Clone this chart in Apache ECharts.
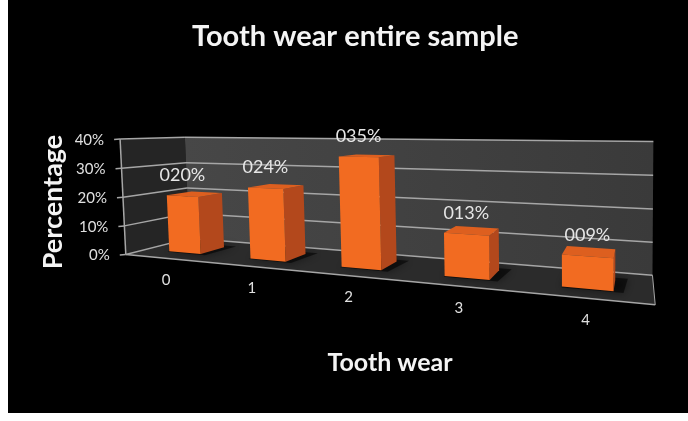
<!DOCTYPE html>
<html><head><meta charset="utf-8">
<script src="https://cdn.jsdelivr.net/npm/echarts@6/dist/echarts.min.js"></script>
<style>html,body{margin:0;padding:0;background:#fff}#c{width:688px;height:421px}</style>
</head><body><div id="c"></div>
<script>
// ---- data ----
const categories = ['0', '1', '2', '3', '4'];
const values = [20, 24, 35, 13, 9];
const valueLabels = ['020%', '024%', '035%', '013%', '009%'];
const yTicks = [0, 10, 20, 30, 40];
const yTickLabels = ['0%', '10%', '20%', '30%', '40%'];
const titleText = 'Tooth wear entire sample';
const xAxisName = 'Tooth wear';
const yAxisName = 'Percentage';

// ---- layout: calibration of the 3-D view (box corner u,v,z -> page px) ----
const VIEW = [
  [0, 1, 0, 118, 139], [0, 0, 0, 128, 253], [0, 1, 1, 187, 137], [0, 0, 1, 187, 240],
  [1, 1, 1, 653, 142], [1, 0, 1, 653, 273], [1, 0, 0, 655, 307]
];
const BAR_W = 0.4, BAR_Z0 = 0.3, BAR_Z1 = 0.7;
const FONT = 'Lato, "Open Sans", sans-serif';

function solveLinear(M, b) {
  const n = b.length, A = M.map((r, i) => r.concat([b[i]]));
  for (let c = 0; c < n; c++) {
    let p = c;
    for (let r = c + 1; r < n; r++) if (Math.abs(A[r][c]) > Math.abs(A[p][c])) p = r;
    [A[c], A[p]] = [A[p], A[c]];
    for (let r = 0; r < n; r++) {
      if (r === c) continue;
      const f = A[r][c] / A[c][c];
      for (let k = c; k <= n; k++) A[r][k] -= f * A[c][k];
    }
  }
  return A.map((r, i) => r[n] / r[i]);
}
function makeProjector(ref) {
  const A = [], B = [];
  ref.forEach(([X, Y, Z, x, y]) => {
    A.push([X, Y, Z, 1, 0, 0, 0, 0, -x * X, -x * Y, -x * Z]); B.push(x);
    A.push([0, 0, 0, 0, X, Y, Z, 1, -y * X, -y * Y, -y * Z]); B.push(y);
  });
  const n = 11, N = [...Array(n)].map(() => Array(n).fill(0)), r = Array(n).fill(0);
  for (let k = 0; k < A.length; k++) for (let i = 0; i < n; i++) {
    r[i] += A[k][i] * B[k];
    for (let j = 0; j < n; j++) N[i][j] += A[k][i] * A[k][j];
  }
  const p = solveLinear(N, r);
  return (u, v, z) => {
    const w = p[8] * u + p[9] * v + p[10] * z + 1;
    return [(p[0] * u + p[1] * v + p[2] * z + p[3]) / w, (p[4] * u + p[5] * v + p[6] * z + p[7]) / w];
  };
}
const P = makeProjector(VIEW);

function norm(params, api, cat, val) {
  const r = params.coordSys, c = api.coord([cat, val]);
  return [(c[0] - r.x) / r.width, (r.y + r.height - c[1]) / r.height];
}
const GRID_C = '#a6a6a6';

const chart = echarts.init(document.getElementById('c'), null, { renderer: 'canvas' });
chart.setOption({
  animation: false,
  backgroundColor: '#000',
  title: {
    text: titleText, left: 187, top: 17,
    textStyle: { color: '#f4f4f4', fontSize: 29, fontWeight: 'bold', fontFamily: FONT }
  },
  grid: { left: 130, right: 40, top: 140, bottom: 120 },
  xAxis: { type: 'category', data: categories, show: false },
  yAxis: { type: 'value', min: 0, max: 40, interval: 10, show: false },
  graphic: [
    { type: 'rect', z: 100, shape: { x: 0, y: 0, width: 8, height: 421 }, style: { fill: '#fff' } },
    { type: 'rect', z: 100, shape: { x: 0, y: 413, width: 688, height: 8 }, style: { fill: '#fff' } },
    { type: 'text', z: 100, x: 53, y: 202, rotation: Math.PI / 2,
      style: { text: yAxisName, fill: '#f4f4f4', font: 'bold 27px ' + FONT, align: 'center', verticalAlign: 'middle', textAlign: 'center', textVerticalAlign: 'middle' } },
    { type: 'text', z: 100, x: 390, y: 363,
      style: { text: xAxisName, fill: '#f4f4f4', font: 'bold 25px ' + FONT, align: 'center', verticalAlign: 'middle', textAlign: 'center', textVerticalAlign: 'middle' } }
  ],
  series: [
    { // walls and floor
      type: 'custom', z: 1, clip: false, silent: true,
      data: [[0, 40]],
      renderItem(params, api) {
        const vt = norm(params, api, 0, api.value(1))[1];
        const poly = (pts, fill) => ({ type: 'polygon', shape: { points: pts }, style: { fill } });
        const ln = (a, b, w) => ({ type: 'line', shape: { x1: a[0], y1: a[1], x2: b[0], y2: b[1] }, style: { stroke: GRID_C, lineWidth: w || 1.5 } });
        return { type: 'group', children: [
          poly([P(0, 0, 0), P(0, 0, 1), P(0, vt, 1), P(0, vt, 0)], '#252525'),
          poly([P(0, 0, 1), P(1, 0, 1), P(1, vt, 1), P(0, vt, 1)],
            new echarts.graphic.LinearGradient(0, 0, 1, 0, [{ offset: 0, color: '#474747' }, { offset: 1, color: '#3a3a3a' }])),
          poly([P(0, 0, 0), P(1, 0, 0), P(1, 0, 1), P(0, 0, 1)], '#2b2b2b'),
          ln(P(0, 0, 0), P(0, vt, 0)),
          ln(P(0, 0, 0), P(1, 0, 0)),
          ln(P(1, 0, 0), P(1, 0, 1), 1)
        ] };
      }
    },
    { // grid lines + y tick labels
      type: 'custom', z: 2, clip: false, silent: true,
      data: yTicks.map((t, i) => [i, t]),
      renderItem(params, api) {
        const idx = api.value(0), v = norm(params, api, 0, api.value(1))[1];
        const a = P(0, v, 0), b = P(0, v, 1), c = P(1, v, 1);
        const ln = (p, q) => ({ type: 'line', shape: { x1: p[0], y1: p[1], x2: q[0], y2: q[1] }, style: { stroke: GRID_C, lineWidth: 1.5 } });
        return { type: 'group', children: [
          ln([a[0] - 6, a[1] + 0.5], a), ln(a, b), ln(b, c),
          { type: 'text', style: { text: yTickLabels[idx], x: a[0] - 16, y: a[1] + 1, fill: '#e0e0e0', font: '15px ' + FONT,
            align: 'right', verticalAlign: 'middle', textAlign: 'right', textVerticalAlign: 'middle' } }
        ] };
      }
    },
    { // bars
      type: 'custom', z: 3, clip: false,
      data: values.map((v, i) => [i, v]),
      renderItem(params, api) {
        const i = api.value(0);
        const [uc, v] = norm(params, api, i, api.value(1));
        const bw = api.size([1, 0])[0] / params.coordSys.width * BAR_W;
        const u0 = uc - bw / 2, u1 = uc + bw / 2, z0 = BAR_Z0, z1 = BAR_Z1;
        const lt = P(uc, v, z0);
        return { type: 'group', children: [
          { type: 'polygon', shape: { points: [P(u0, 0, z0 - 0.03), P(u1 + 0.015, 0, z0 - 0.03), P(u1 + 0.02, 0, z1 + 0.08), P(u0, 0, z1 + 0.08)] },
            style: { fill: 'rgba(0,0,0,0.55)', shadowBlur: 8, shadowColor: 'rgba(0,0,0,0.8)' } },
          { type: 'polygon', shape: { points: [P(u1, 0, z0), P(u1, 0, z1), P(u1, v, z1), P(u1, v, z0)] }, style: { fill: '#b3481c' } },
          { type: 'polygon', shape: { points: [P(u0, v, z0), P(u1, v, z0), P(u1, v, z1), P(u0, v, z1)] }, style: { fill: '#dd5f1f' } },
          { type: 'polygon', shape: { points: [P(u0, 0, z0), P(u1, 0, z0), P(u1, v, z0), P(u0, v, z0)] }, style: { fill: '#f26b21' } },
          { type: 'text', style: { text: valueLabels[i], x: lt[0], y: lt[1] - 21, fill: '#e6e6e6', font: '18px ' + FONT,
            align: 'center', verticalAlign: 'middle', textAlign: 'center', textVerticalAlign: 'middle' } }
        ] };
      }
    },
    { // category labels
      type: 'custom', z: 4, clip: false, silent: true,
      data: categories.map((c, i) => [i, 0]),
      renderItem(params, api) {
        const i = api.value(0);
        const [uc] = norm(params, api, i, 0);
        const p = P(uc, 0, 0);
        return { type: 'text', style: { text: categories[i], x: p[0] + 1, y: p[1] + 22, fill: '#e0e0e0', font: '15px ' + FONT,
          align: 'center', verticalAlign: 'middle', textAlign: 'center', textVerticalAlign: 'middle' } };
      }
    }
  ]
});
</script></body></html>
